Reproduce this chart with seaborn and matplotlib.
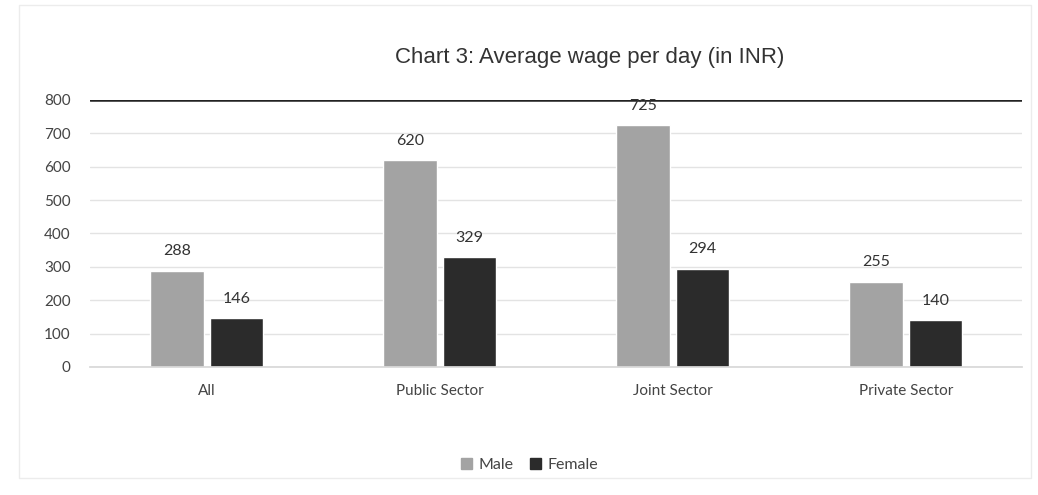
import numpy as np
import pandas as pd
import matplotlib
matplotlib.use("Agg")
import matplotlib.pyplot as plt
import seaborn as sns
from matplotlib.patches import Rectangle

# chart data
categories = ["All", "Public Sector", "Joint Sector", "Private Sector"]
male = [288, 620, 725, 255]
female = [146, 329, 294, 140]
series = ["Male", "Female"]
yticks = [0, 100, 200, 300, 400, 500, 600, 700, 800]

df = pd.DataFrame({
    "Sector": categories * 2,
    "Wage": male + female,
    "Sex": ["Male"] * len(male) + ["Female"] * len(female),
})

sns.set_theme(style="white")
plt.rcParams['font.family'] = ['Lato', 'DejaVu Sans']

fig = plt.figure(figsize=(10.38, 4.95), dpi=100)
ax = fig.add_axes([0.0867, 0.2586, 0.8983, 0.5394])

sns.barplot(data=df, x="Sector", y="Wage", hue="Sex", hue_order=series,
            palette={"Male": "#a3a3a3", "Female": "#2b2b2b"},
            width=0.51, gap=0.1, ax=ax, legend=False, saturation=1)

for cont in ax.containers:
    ax.bar_label(cont, padding=9, fontsize=11.5, color="#333333")

ax.set_ylim(0, 800)
ax.set_xlim(-0.5, 3.5)
ax.set_yticks(yticks)
ax.tick_params(axis="y", labelsize=11, colors="#444444", pad=14, length=0)
ax.tick_params(axis="x", labelsize=11, colors="#444444", pad=12, length=0)
ax.set_xlabel("")
ax.set_ylabel("")
ax.set_axisbelow(True)
ax.yaxis.grid(True, color="#e3e3e3", linewidth=1)
for s in ["left", "right", "top"]:
    ax.spines[s].set_visible(False)
ax.spines["bottom"].set_color("#d8d8d8")
ax.axhline(800, color="#222222", linewidth=1.8, zorder=1)

fig.text(0.568, 0.883, "Chart 3: Average wage per day (in INR)",
         ha="center", va="center", fontsize=16, color="#333333",
         family=["Liberation Sans", "DejaVu Sans"])

# legend
handles = [Rectangle((0, 0), 1, 1, color="#a3a3a3"), Rectangle((0, 0), 1, 1, color="#2b2b2b")]
fig.legend(handles, series, loc="center", bbox_to_anchor=(0.51, 0.06), ncol=2,
           frameon=False, fontsize=11.5, handlelength=0.7, handleheight=0.7,
           handletextpad=0.4, columnspacing=1.0, labelcolor="#444444")

# faint outer frame of the scanned chart
fig.patches.append(Rectangle((0.018, 0.035), 0.975, 0.955, transform=fig.transFigure,
                             fill=False, edgecolor="#ececec", linewidth=1))

fig.savefig("out.png", dpi=100)
